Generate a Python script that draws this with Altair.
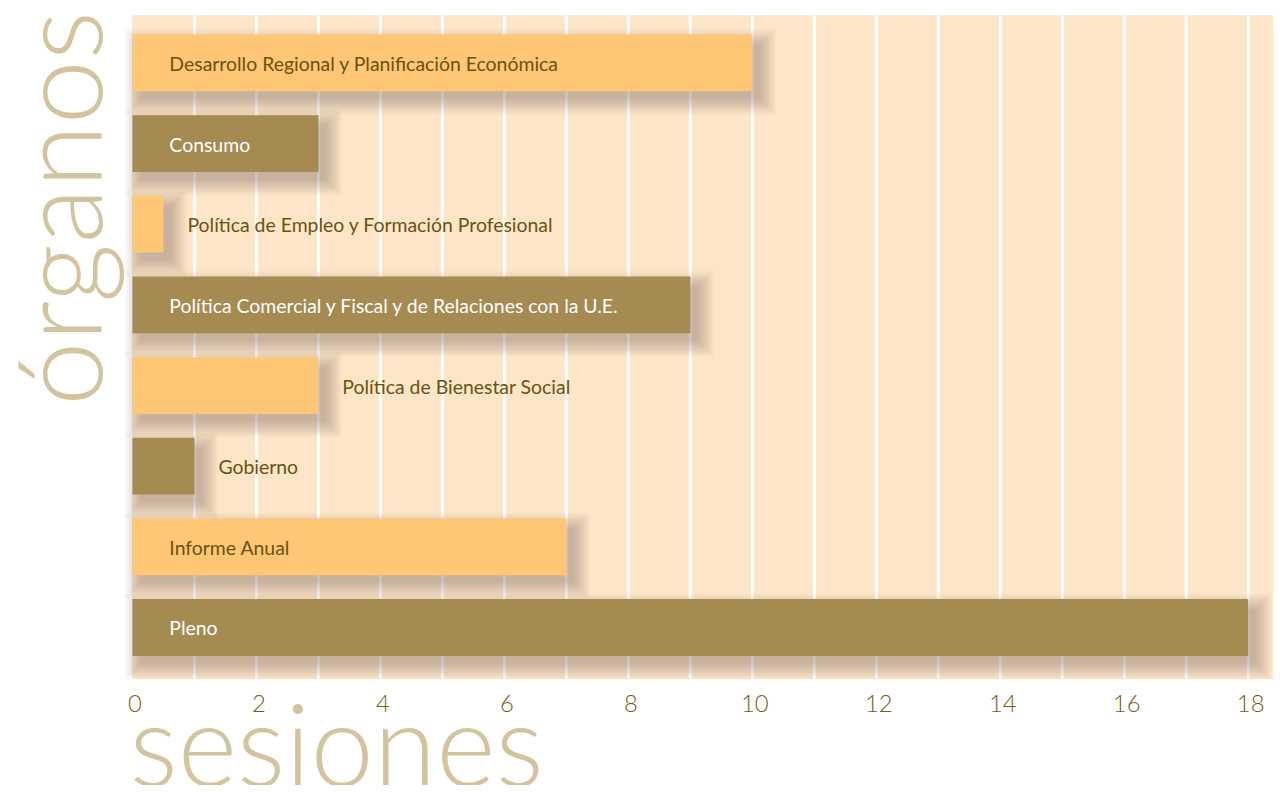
import altair as alt
import pandas as pd

# ---- data ----
categories = [
    "Desarrollo Regional y Planificación Económica",
    "Consumo",
    "Política de Empleo y Formación Profesional",
    "Política Comercial y Fiscal y de Relaciones con la U.E.",
    "Política de Bienestar Social",
    "Gobierno",
    "Informe Anual",
    "Pleno",
]
sessions = [10, 3, 0.5, 9, 3, 1, 7, 18]
tick_labels = list(range(0, 19, 2))
grid_values = list(range(1, 19))
y_title = "órganos"
x_title = "sesiones"

ORANGE = "#FEC675"
BROWN = "#A58A52"
BG = "#FDE6C7"
TEXT_DARK = "#6B5213"
TITLE_COL = "#D3C39F"
bar_colors = [ORANGE, BROWN] * 4

W, H = 1145, 662
EXT = 4  # background extends a little under the last band
XMAX = 18.4
px_per_unit = W / XMAX
LABEL_SIZE = 19.5
BAR_H = 57

df = pd.DataFrame({"organo": categories, "sesiones": sessions})
df["zero"] = 0
df["tone"] = [bar_colors[i] for i in range(len(categories))]
# label goes inside the bar when it fits
df["inside"] = [
    (len(c) * LABEL_SIZE * 0.45 + 47) < v * px_per_unit for c, v in zip(categories, sessions)
]
df["label_col"] = [
    ("light" if (ins and t == BROWN) else "dark") for ins, t in zip(df["inside"], df["tone"])
]

x_scale = alt.Scale(domain=[0, XMAX], nice=False, zero=True)
y_scale = alt.Scale(domain=categories, paddingInner=0.295, paddingOuter=0.235)

base = alt.Chart(df)
y_enc = alt.Y("organo:N", sort=categories, scale=y_scale, axis=None)

# background of the plot area
bg = alt.Chart(pd.DataFrame({"a": [0]})).mark_rect(color=BG).encode(
    x=alt.value(0), x2=alt.value(W), y=alt.value(0), y2=alt.value(H + EXT)
)

# white vertical grid lines
grid = alt.Chart(pd.DataFrame({"g": grid_values})).mark_rule(
    color="white", strokeWidth=3
).encode(
    x=alt.X("g:Q", scale=x_scale),
    y=alt.value(0),
    y2=alt.value(H + EXT),
)

# soft drop shadow approximation
shadows = []
for k in range(10):
    spread = k * 1.8
    shadows.append(
        base.mark_bar(
            color="#6E665E",
            opacity=0.042,
            height=BAR_H - 4 + 2 * spread,
            yOffset=9,
            xOffset=9 - spread,
            x2Offset=7 + spread,
        ).encode(
            x=alt.X("zero:Q", scale=x_scale),
            x2="sesiones:Q",
            y=y_enc,
        )
    )

bars = base.mark_bar(height=BAR_H).encode(
    x=alt.X(
        "zero:Q",
        scale=x_scale,
        title=None,
        axis=alt.Axis(
            values=tick_labels,
            format="d",
            grid=False,
            domain=False,
            ticks=False,
            labelFont="Lato",
            labelFontSize=24,
            labelFontWeight=300,
            labelColor="#7A5C1A",
            labelPadding=14 + EXT,
            labelAlign="center",
            labelFlush=False,
            labelOverlap=False,
            labelOffset=2,
        ),
    ),
    x2="sesiones:Q",
    y=y_enc,
    color=alt.Color("tone:N", scale=None),
)

label_color = alt.Color(
    "label_col:N", scale=alt.Scale(domain=["light", "dark"], range=["white", TEXT_DARK]), legend=None
)

labels_in = base.transform_filter("datum.inside").mark_text(
    align="left", baseline="middle", dx=37, dy=2, font="Lato", fontSize=LABEL_SIZE
).encode(
    x=alt.X("zero:Q", scale=x_scale),
    y=y_enc,
    text="organo:N",
    color=label_color,
)

labels_out = base.transform_filter("!datum.inside").mark_text(
    align="left", baseline="middle", dx=24, dy=2, font="Lato", fontSize=LABEL_SIZE
).encode(
    x=alt.X("sesiones:Q", scale=x_scale),
    y=y_enc,
    text="organo:N",
    color=label_color,
)

title_df = pd.DataFrame({"t": [y_title]})
ytitle = alt.Chart(title_df).mark_text(
    angle=270, align="left", baseline="alphabetic", font="Lato", fontWeight=300,
    fontSize=116, color=TITLE_COL,
).encode(x=alt.value(-31), y=alt.value(392), text="t:N")

xt_df = pd.DataFrame({"t": [x_title]})
xtitle = alt.Chart(xt_df).mark_text(
    align="left", baseline="alphabetic", font="Lato", fontWeight=300,
    fontSize=114, color=TITLE_COL,
).encode(x=alt.value(-3), y=alt.value(774), text="t:N")

chart = alt.layer(bg, grid, *shadows, bars, labels_in, labels_out, ytitle, xtitle).properties(
    width=W,
    height=H,
    autosize=alt.AutoSizeParams(type="none"),
    padding={"left": 125, "top": 6, "right": 0, "bottom": 109},
).configure_view(strokeWidth=0, stroke="transparent").configure(font="Lato")

chart.save("out.html", embed_options={"renderer": "svg", "actions": False})
